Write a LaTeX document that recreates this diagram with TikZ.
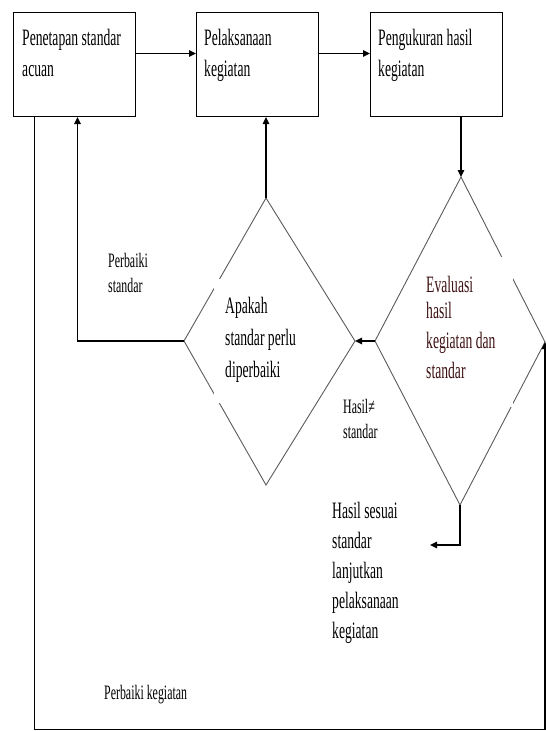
\documentclass[tikz,border=0pt]{standalone}
\usepackage{fontspec}
\setmainfont{Liberation Serif}
\newfontfamily\narrowserif[FakeStretch=0.58]{Liberation Serif}
\usetikzlibrary{arrows.meta}
\definecolor{edgegray}{HTML}{5A5A5A}
\definecolor{evaltext}{HTML}{3E1212}

\begin{document}
\begin{tikzpicture}[x=1pt,y=-1pt,
  box/.style={draw=black, line width=1pt, minimum height=104pt,
    anchor=north west, inner sep=0pt},
  decision/.style={draw=edgegray, line width=0.9pt, line join=miter},
  arr/.style={draw=black, line width=1.3pt,
    -{Triangle[length=7pt,width=6.5pt]}},
  txt/.style={anchor=base west, inner sep=0pt, align=left,
    font=\narrowserif\fontsize{23.5}{31}\selectfont},
  small/.style={anchor=base west, inner sep=0pt, align=left,
    font=\narrowserif\fontsize{20.5}{25}\selectfont},
  textback/.style={fill=white, draw=none}]
\useasboundingbox (0,0) rectangle (546,731);

% process boxes
\node[box, minimum width=122pt] (b1) at (13,12) {};
\node[box, minimum width=122pt] (b2) at (196,12) {};
\node[box, minimum width=132pt] (b3) at (370,12) {};

% decision diamonds (corner points)
\coordinate (d1t) at (266,198);
\coordinate (d1r) at (355,341);
\coordinate (d1b) at (266,485);
\coordinate (d1l) at (184,341);
\coordinate (d2t) at (461,177);
\coordinate (d2r) at (545,342);
\coordinate (d2b) at (460,505);
\coordinate (d2l) at (375,341);
\draw[decision] (d1t) -- (d1r) -- (d1b) -- (d1l) -- cycle;
\draw[decision] (d2t) -- (d2r) -- (d2b) -- (d2l) -- cycle;

% text backgrounds inside the diamonds
\fill[textback] (214,279) rectangle (305,403);
\fill[textback] (420,257) rectangle (513,407);

% box texts (positions give the baseline of the last line)
\node[txt] (t1) at (22,76) {Penetapan standar\\acuan};
\node[txt] (t2) at (204,76) {Pelaksanaan\\kegiatan};
\node[txt] (t3) at (378,76) {Pengukuran hasil\\kegiatan};

% diamond texts
\node[txt, font=\narrowserif\fontsize{23.5}{32}\selectfont] (q1) at (225,377)
  {Apakah\\standar perlu\\diperbaiki};
\node[txt, text=evaltext, font=\narrowserif\fontsize{23.5}{30}\selectfont] (q2) at (426,378)
  {Evaluasi\\[-4pt]hasil\\kegiatan dan\\standar};

% branch labels
\node[small] (l1) at (108,292) {Perbaiki\\standar};
\node[small] (l2) at (343,438) {Hasil≠\\standar};
\node[txt, font=\narrowserif\fontsize{23.5}{30}\selectfont] (l3) at (332,638)
  {Hasil sesuai\\standar\\lanjutkan\\pelaksanaan\\kegiatan};
\node[small] (l4) at (104,699) {Perbaiki kegiatan};

% main flow
\draw[arr] ([yshift=11pt]b1.east) -- ([yshift=11pt]b2.west);
\draw[arr] ([yshift=11pt]b2.east) -- ([yshift=11pt]b3.west);
\draw[arr] (d2t |- b3.south) -- (d2t);
\draw[arr] (d2l) -- (d1r);
\draw[arr] (d1t) -- (d1t |- b2.south);

% correction of the standard
\draw[arr] (d1l) -| ([xshift=3pt]b1.south);

% correction of the activity
\coordinate (cR) at (545,729.5);
\draw[arr] ([xshift=-40pt]b1.south) |- (cR) -- (d2r);

% result meets the standard
\coordinate (cGo) at (430,545);
\draw[arr] (d2b) |- (cGo);
\end{tikzpicture}
\end{document}
